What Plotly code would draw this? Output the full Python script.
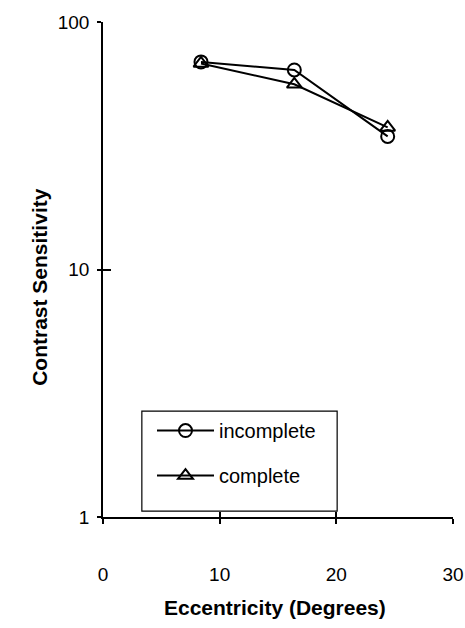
import plotly.graph_objects as go

eccentricity = [8.4, 16.4, 24.4]
incomplete = [69, 64, 34.5]
complete = [68, 56, 37.5]
x_ticks = [0, 10, 20, 30]
y_ticks = [1, 10, 100]
y_tick_text = ["1", "10", "100"]

FONT = "Liberation Sans, Arial, Helvetica, sans-serif"

fig = go.Figure()
fig.add_trace(go.Scatter(
    x=eccentricity, y=incomplete, name="incomplete", mode="lines+markers",
    line=dict(color="black", width=2),
    marker=dict(symbol="circle-open", size=13, color="black", line=dict(width=2)),
    legendgroup="a",
))
fig.add_trace(go.Scatter(
    x=eccentricity, y=complete, name="complete", mode="lines+markers",
    line=dict(color="black", width=2),
    marker=dict(symbol="triangle-up-open", size=13, color="black", line=dict(width=2)),
    legendgroup="b",
))
# helper trace so the overlay axes (inside tick marks) are drawn
fig.add_trace(go.Scatter(x=[None], y=[None], xaxis="x2", yaxis="y2",
                         showlegend=False, hoverinfo="skip"))

axis_common = dict(showgrid=False, zeroline=False, automargin=False,
                   tickcolor="black", tickwidth=1.5)

fig.update_layout(
    width=465, height=628,
    margin=dict(l=103, r=12, t=22, b=111),
    paper_bgcolor="white", plot_bgcolor="white",
    font=dict(family=FONT, size=18, color="black"),
    showlegend=True,
    legend=dict(
        x=0.14, y=0.214, xanchor="left", yanchor="top",
        bgcolor="rgba(0,0,0,0)", borderwidth=0,
        font=dict(size=20), itemwidth=57, tracegroupgap=16,
    ),
    shapes=[
        dict(type="rect", xref="paper", yref="paper",
             x0=0.111, x1=0.669, y0=0.012, y1=0.214,
             line=dict(color="black", width=1.2), fillcolor="white", layer="below"),
    ],
    xaxis=dict(
        range=[0, 30], tickvals=x_ticks, ticks="outside", ticklen=5,
        showline=True, linecolor="black", linewidth=1.5,
        ticklabelstandoff=34, tickfont=dict(size=19), **axis_common,
    ),
    yaxis=dict(
        type="log", range=[0, 2], tickvals=y_ticks, ticktext=y_tick_text,
        ticks="outside", ticklen=4,
        showline=True, linecolor="black", linewidth=1.5,
        ticklabelstandoff=4, tickfont=dict(size=19), **axis_common,
    ),
    xaxis2=dict(
        range=[0, 30], tickvals=x_ticks, ticks="inside", ticklen=5,
        overlaying="x", showticklabels=False, showline=False, **axis_common,
    ),
    yaxis2=dict(
        type="log", range=[0, 2], tickvals=y_ticks, ticks="inside", ticklen=8,
        overlaying="y", showticklabels=False, showline=False, **axis_common,
    ),
    annotations=[
        dict(text="<b>Eccentricity (Degrees)</b>", xref="paper", yref="paper",
             x=0.49, y=-0.182, xanchor="center", yanchor="middle",
             showarrow=False, font=dict(size=21)),
        dict(text="<b>Contrast Sensitivity</b>", xref="paper", yref="paper",
             x=-0.18, y=0.465, xanchor="center", yanchor="middle",
             textangle=-90, showarrow=False, font=dict(size=21)),
    ],
)

fig.write_html(
    "out.html",
    config={"displayModeBar": False},
    post_script="document.body.style.margin='0';document.body.style.overflow='hidden';",
)
